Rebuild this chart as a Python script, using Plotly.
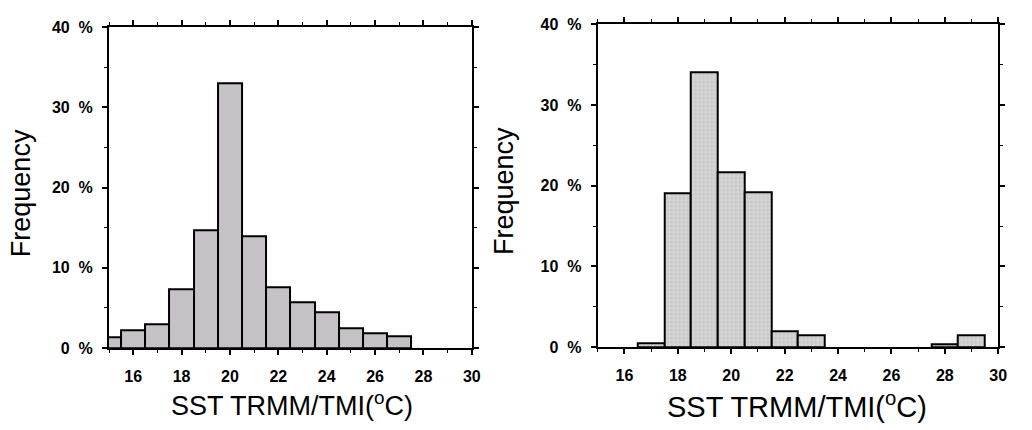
import plotly.graph_objects as go

# SST bins (degC, 1-degree bins centred on integers) and frequencies (%)
left_bins = [15, 16, 17, 18, 19, 20, 21, 22, 23, 24, 25, 26, 27]
left_freq = [1.3, 2.2, 3.0, 7.3, 14.7, 33.0, 14.0, 7.6, 5.7, 4.5, 2.5, 1.8, 1.5]

right_bins = [17, 18, 19, 20, 21, 22, 23, 28, 29]
right_freq = [0.5, 19.0, 34.1, 21.7, 19.2, 2.0, 1.4, 0.3, 1.5]

x_ticks = [16, 18, 20, 22, 24, 26, 28, 30]
y_ticks = [0, 10, 20, 30, 40]
y_ticktext = ["0\u00a0\u00a0%", "10\u00a0\u00a0%", "20\u00a0\u00a0%", "30\u00a0\u00a0%", "40\u00a0\u00a0%"]

x_title = "SST TRMM/TMI(<sup>o</sup>C)"
y_title = "Frequency"

W, H = 1032, 430
FONT = "Liberation Sans, Arial, sans-serif"


def px_x(p):
    return p / W


def px_y(p):
    return 1 - p / H


fig = go.Figure()

fig.add_trace(go.Bar(
    x=left_bins, y=left_freq, width=1.0,
    marker=dict(color="#c5c1c6", line=dict(color="black", width=2)),
    xaxis="x", yaxis="y", showlegend=False,
))
fig.add_trace(go.Bar(
    x=right_bins, y=right_freq, width=1.0,
    marker=dict(
        color="#d2d2d2", line=dict(color="black", width=2),
        pattern=dict(shape=".", fillmode="overlay", bgcolor="#d4d4d4",
                     fgcolor="#b4b4b4", size=4, solidity=0.25),
    ),
    xaxis="x2", yaxis="y2", showlegend=False,
))

tick_font = dict(family=FONT, size=16, color="black", weight="bold")

common_x = dict(
    range=[15, 30], tickvals=x_ticks, ticks="outside", ticklen=5, tickwidth=1.5,
    tickcolor="black", showline=True, linecolor="black", linewidth=2, mirror="allticks",
    showgrid=False, zeroline=False,
    minor=dict(dtick=1, tick0=15, ticks="outside", ticklen=3, tickwidth=1, tickcolor="black"),
    tickfont=tick_font, ticklabelstandoff=8,
)
common_y = dict(
    range=[0, 40], tickvals=y_ticks, ticktext=y_ticktext, ticks="outside", ticklen=5,
    tickwidth=1.5, tickcolor="black", showline=True, linecolor="black", linewidth=2,
    mirror="allticks", showgrid=False, zeroline=False,
    minor=dict(dtick=5, ticks="outside", ticklen=3, tickwidth=1, tickcolor="black"),
    tickfont=tick_font, ticklabelstandoff=6,
)

title_font = dict(family=FONT, size=27, color="black")
title_font_r = dict(family=FONT, size=29, color="black")

fig.update_layout(
    width=W, height=H,
    margin=dict(l=0, r=0, t=0, b=0),
    paper_bgcolor="white", plot_bgcolor="white",
    bargap=0,
    xaxis=dict(common_x, domain=[px_x(110), px_x(476)], anchor="y"),
    yaxis=dict(common_y, domain=[px_y(354), px_y(20)], anchor="x"),
    xaxis2=dict(common_x, domain=[px_x(603), px_x(1007)], anchor="y2"),
    yaxis2=dict(common_y, domain=[px_y(353), px_y(17)], anchor="x2"),
    annotations=[
        dict(text=x_title, x=px_x(295), y=px_y(412), xref="paper", yref="paper",
             xanchor="center", yanchor="middle", showarrow=False, font=title_font),
        dict(text=x_title, x=px_x(804), y=px_y(413), xref="paper", yref="paper",
             xanchor="center", yanchor="middle", showarrow=False, font=title_font_r),
        dict(text=y_title, x=px_x(22), y=px_y(193), xref="paper", yref="paper",
             xanchor="center", yanchor="middle", showarrow=False, textangle=-90,
             font=title_font),
        dict(text=y_title, x=px_x(509), y=px_y(191), xref="paper", yref="paper",
             xanchor="center", yanchor="middle", showarrow=False, textangle=-90,
             font=title_font),
    ],
)

fig.write_html("out.html")
